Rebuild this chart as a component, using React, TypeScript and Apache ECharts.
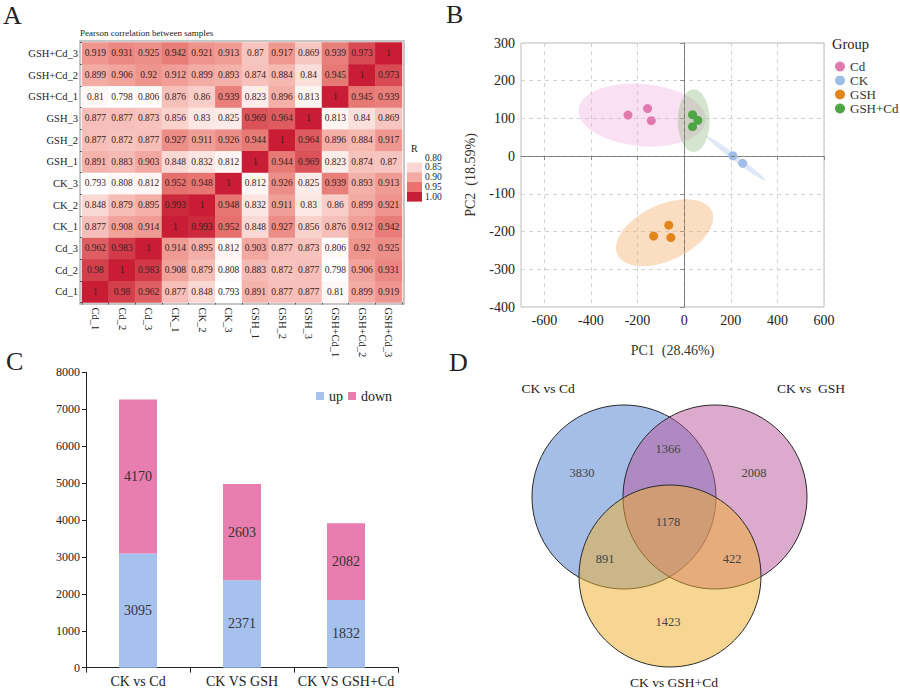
import React, { useEffect, useRef } from 'react';
import * as echarts from 'echarts';

const FONT = "'Liberation Serif', 'Times New Roman', serif";

// ---------- Panel A : Pearson correlation ----------
const samples = ['Cd_1', 'Cd_2', 'Cd_3', 'CK_1', 'CK_2', 'CK_3', 'GSH_1', 'GSH_2', 'GSH_3', 'GSH+Cd_1', 'GSH+Cd_2', 'GSH+Cd_3'];
const corrCd1 = [1, 0.98, 0.962, 0.877, 0.848, 0.793, 0.891, 0.877, 0.877, 0.81, 0.899, 0.919];
const corrCd2 = [0.98, 1, 0.983, 0.908, 0.879, 0.808, 0.883, 0.872, 0.877, 0.798, 0.906, 0.931];
const corrCd3 = [0.962, 0.983, 1, 0.914, 0.895, 0.812, 0.903, 0.877, 0.873, 0.806, 0.92, 0.925];
const corrCK1 = [0.877, 0.908, 0.914, 1, 0.993, 0.952, 0.848, 0.927, 0.856, 0.876, 0.912, 0.942];
const corrCK2 = [0.848, 0.879, 0.895, 0.993, 1, 0.948, 0.832, 0.911, 0.83, 0.86, 0.899, 0.921];
const corrCK3 = [0.793, 0.808, 0.812, 0.952, 0.948, 1, 0.812, 0.926, 0.825, 0.939, 0.893, 0.913];
const corrGSH1 = [0.891, 0.883, 0.903, 0.848, 0.832, 0.812, 1, 0.944, 0.969, 0.823, 0.874, 0.87];
const corrGSH2 = [0.877, 0.872, 0.877, 0.927, 0.911, 0.926, 0.944, 1, 0.964, 0.896, 0.884, 0.917];
const corrGSH3 = [0.877, 0.877, 0.873, 0.856, 0.83, 0.825, 0.969, 0.964, 1, 0.813, 0.84, 0.869];
const corrGC1 = [0.81, 0.798, 0.806, 0.876, 0.86, 0.939, 0.823, 0.896, 0.813, 1, 0.945, 0.939];
const corrGC2 = [0.899, 0.906, 0.92, 0.912, 0.899, 0.893, 0.874, 0.884, 0.84, 0.945, 1, 0.973];
const corrGC3 = [0.919, 0.931, 0.925, 0.942, 0.921, 0.913, 0.87, 0.917, 0.869, 0.939, 0.973, 1];
const corrMatrix = [corrCd1, corrCd2, corrCd3, corrCK1, corrCK2, corrCK3, corrGSH1, corrGSH2, corrGSH3, corrGC1, corrGC2, corrGC3];
const corrLegendTicks = [0.8, 0.85, 0.9, 0.95, 1.0];
const heatColors = ['#ffffff', '#fad7d2', '#f3aba3', '#e6736f', '#c81d35'];

// ---------- Panel B : PCA ----------
const pcaGroups = ['Cd', 'CK', 'GSH', 'GSH+Cd'];
const pcaCd = [[-241, 109], [-157, 126], [-141, 94]];
const pcaCK = [[209, 1], [251, -19]];
const pcaGSH = [[-66, -183], [-131, -212], [-57, -216]];
const pcaGSHCd = [[36, 110], [59, 95], [36, 78]];
const pcaPoints = [pcaCd, pcaCK, pcaGSH, pcaGSHCd];
// ellipse: center x, center y, semi-axis vector u (x,y), semi-axis vector v (x,y)
const ellipseCd = [-180, 109, 273, -15, 12, 82];
const ellipseCK = [222, -6, 125, -58, -8, -6];
const ellipseGSH = [-84, -203, 202, 58, -51, 67];
const ellipseGSHCd = [41, 94, 68, 0, 0, 83];
const pcaEllipses = [ellipseCd, ellipseCK, ellipseGSH, ellipseGSHCd];
const pcaXTicks = [-600, -400, -200, 0, 200, 400, 600];
const pcaColors = ['#e07aae', '#9fbde6', '#e2851c', '#4ea544'];
const ellipseFills = ['rgba(240,165,220,0.35)', 'rgba(160,190,230,0.35)', 'rgba(245,170,100,0.4)', 'rgba(120,175,105,0.32)'];

// ---------- Panel C : DEGs ----------
const comparisons = ['CK vs Cd', 'CK VS GSH', 'CK VS GSH+Cd'];
const upCounts = [3095, 2371, 1832];
const downCounts = [4170, 2603, 2082];

// ---------- Panel D : Venn ----------
const vennSetNames = ['CK vs Cd', 'CK vs  GSH', 'CK vs GSH+Cd'];
// regions: A only, B only, C only, A∩B, A∩C, B∩C, A∩B∩C
const vennRegionCounts = [3830, 2008, 1423, 1366, 891, 422, 1178];

export default function App() {
  const ref = useRef<HTMLDivElement>(null);

  useEffect(() => {
    if (!ref.current) return;
    const chart = echarts.init(ref.current, undefined, { renderer: 'svg' });

    const heatData: any[] = [];
    corrMatrix.forEach((row, i) => row.forEach((v, j) => heatData.push([j, i, v])));

    const txt = (text: string, x: number, y: number, size: number, align = 'left', vAlign = 'middle', color = '#222') => ({
      type: 'text',
      x,
      y,
      silent: true,
      style: {
        text,
        font: `${size}px ${FONT}`,
        fill: color,
        textAlign: align,
        textVerticalAlign: vAlign,
        align,
        verticalAlign: vAlign,
      },
    });

    const graphics: any[] = [];
    // Panel letters
    graphics.push(txt('A', 3, 15, 26));
    graphics.push(txt('B', 446, 14, 26));
    graphics.push(txt('C', 6, 361, 26));
    graphics.push(txt('D', 449, 362, 26));
    // Heatmap title & frame
    graphics.push(txt('Pearson correlation between samples', 80, 33, 9));
    graphics.push({ type: 'rect', silent: true, shape: { x: 80, y: 41, width: 324, height: 263 }, style: { fill: 'none', stroke: '#b5b5b5', lineWidth: 1.5 } });
    // Heatmap colour legend
    graphics.push(txt('R', 411, 148, 10));
    corrLegendTicks.forEach((t, i) => {
      const cy = 157.7 + i * 9.75;
      graphics.push({ type: 'rect', silent: true, shape: { x: 407, y: cy - 4.9, width: 15, height: 9.8 }, style: { fill: heatColors[i] } });
      graphics.push(txt(t.toFixed(2), 425, cy, 9.5));
    });
    // PCA legend title
    graphics.push(txt('Group', 832, 44, 14.5));

    // Venn
    const circles = [
      { cx: 624, cy: 497, r: 92, fill: 'rgba(75,125,209,0.5)' },
      { cx: 715, cy: 497, r: 92, fill: 'rgba(185,85,155,0.5)' },
      { cx: 670, cy: 576, r: 91, fill: 'rgba(239,173,41,0.5)' },
    ];
    circles.forEach((c) =>
      graphics.push({ type: 'circle', silent: true, shape: { cx: c.cx, cy: c.cy, r: c.r }, style: { fill: c.fill, stroke: '#2a2a2a', lineWidth: 1 } })
    );
    const setLabelPos = [[548, 388], [811, 388], [674, 682]];
    vennSetNames.forEach((n, i) => graphics.push(txt(n, setLabelPos[i][0], setLabelPos[i][1], 13.5, 'center')));
    const regionPos = [[582, 473], [754, 473], [668, 622], [668, 449], [605, 559], [732, 559], [668, 522]];
    vennRegionCounts.forEach((v, i) => graphics.push(txt(String(v), regionPos[i][0], regionPos[i][1], 12.5, 'center', 'middle', '#444')));

    const axisFont = { fontFamily: FONT, color: '#222' };

    const option: any = {
      animation: false,
      textStyle: { fontFamily: FONT },
      grid: [
        { left: 82, top: 42.5, width: 320, height: 260 },
        { left: 521, top: 43, width: 303, height: 264, show: true, borderColor: '#bdbdbd', borderWidth: 1 },
        { left: 86, top: 372.3, width: 312, height: 295.4 },
      ],
      xAxis: [
        {
          gridIndex: 0, type: 'category', data: samples,
          axisLine: { show: false }, axisTick: { show: true, length: 2, lineStyle: { color: '#555' } },
          axisLabel: { ...axisFont, fontSize: 10.5, rotate: -90, margin: 5, interval: 0 }, splitLine: { show: false },
        },
        {
          gridIndex: 1, type: 'value', min: -700, max: 600,
          name: 'PC1  (28.46%)', nameLocation: 'middle', nameGap: 36,
          nameTextStyle: { fontFamily: FONT, fontSize: 14, color: '#333' },
          axisLine: { show: true, lineStyle: { color: '#8a8a8a' } },
          axisTick: { show: true, length: 4, customValues: pcaXTicks, lineStyle: { color: '#8a8a8a' } },
          axisLabel: { ...axisFont, fontSize: 14, margin: 6, customValues: pcaXTicks },
          splitLine: { show: true, lineStyle: { type: [4, 4], color: '#d2d2d2' } },
        },
        {
          gridIndex: 2, type: 'category', data: comparisons,
          axisLine: { show: true, lineStyle: { color: '#222' } },
          axisTick: { show: true, length: 5, lineStyle: { color: '#222' } },
          axisLabel: { ...axisFont, fontSize: 14, margin: 7, interval: 0, hideOverlap: false },
        },
      ],
      yAxis: [
        {
          gridIndex: 0, type: 'category', data: samples,
          axisLine: { show: false }, axisTick: { show: true, length: 2, lineStyle: { color: '#555' } },
          axisLabel: { ...axisFont, fontSize: 10.5, margin: 4, interval: 0 }, splitLine: { show: false },
        },
        {
          gridIndex: 1, type: 'value', min: -400, max: 300, interval: 100,
          name: 'PC2  (18.59%)', nameLocation: 'middle', nameGap: 44, nameRotate: 90,
          nameTextStyle: { fontFamily: FONT, fontSize: 14, color: '#333' },
          axisLine: { show: true, lineStyle: { color: '#8a8a8a' } },
          axisTick: { show: true, length: 4, lineStyle: { color: '#8a8a8a' } },
          axisLabel: { ...axisFont, fontSize: 14, margin: 6 },
          splitLine: { show: true, lineStyle: { type: [4, 4], color: '#d2d2d2' } },
        },
        {
          gridIndex: 2, type: 'value', min: 0, max: 8000, interval: 1000,
          axisLine: { show: true, lineStyle: { color: '#222' } },
          axisTick: { show: true, length: 4, lineStyle: { color: '#222' } },
          axisLabel: { ...axisFont, fontSize: 12, margin: 6, formatter: (v: number) => String(v) },
          splitLine: { show: false },
        },
      ],
      visualMap: {
        type: 'continuous', show: false, seriesIndex: 0, min: 0.8, max: 1,
        inRange: { color: heatColors },
      },
      legend: [
        {
          data: pcaGroups, orient: 'vertical', left: 830, top: 55, icon: 'circle',
          itemWidth: 10, itemHeight: 10, itemGap: 1,
          textStyle: { fontFamily: FONT, fontSize: 13, color: '#333' },
          selectedMode: false,
        },
        {
          data: ['up', 'down'], orient: 'horizontal', left: 311, top: 384, icon: 'rect',
          itemWidth: 8, itemHeight: 8, itemGap: 5,
          textStyle: { fontFamily: FONT, fontSize: 14, color: '#222' },
          selectedMode: false,
        },
      ],
      graphic: { elements: graphics },
      series: [
        {
          type: 'heatmap', xAxisIndex: 0, yAxisIndex: 0, data: heatData,
          label: { show: true, fontFamily: FONT, fontSize: 9.5, color: '#3a2020', formatter: (p: any) => String(p.value[2]) },
          emphasis: { disabled: true },
        },
        {
          type: 'custom', name: 'ellipses', xAxisIndex: 1, yAxisIndex: 1, z: 1, silent: true,
          data: pcaEllipses,
          encode: { x: 0, y: 1 },
          renderItem: (params: any, api: any) => {
            const cx = api.value(0), cy = api.value(1);
            const ux = api.value(2), uy = api.value(3), vx = api.value(4), vy = api.value(5);
            const pts: number[][] = [];
            for (let k = 0; k < 90; k++) {
              const t = (k / 90) * Math.PI * 2;
              pts.push(api.coord([cx + ux * Math.cos(t) + vx * Math.sin(t), cy + uy * Math.cos(t) + vy * Math.sin(t)]));
            }
            return { type: 'polygon', shape: { points: pts }, style: { fill: ellipseFills[params.dataIndex], stroke: 'none' } };
          },
        },
        ...pcaGroups.map((g, gi) => ({
          type: 'scatter', name: g, xAxisIndex: 1, yAxisIndex: 1, z: 3,
          data: pcaPoints[gi], symbolSize: 9,
          itemStyle: { color: pcaColors[gi], opacity: 1 },
          ...(gi === 0
            ? {
                markLine: {
                  silent: true, symbol: 'none', label: { show: false },
                  lineStyle: { type: [4, 3], color: '#7a7a7a', width: 1 },
                  data: [{ xAxis: 0 }, { yAxis: 0 }],
                },
              }
            : {}),
        })),
        {
          type: 'bar', name: 'up', stack: 'deg', xAxisIndex: 2, yAxisIndex: 2, data: upCounts,
          barWidth: 38, itemStyle: { color: '#a6c1ee' },
          label: { show: true, position: 'inside', fontFamily: FONT, fontSize: 14, color: '#333' },
        },
        {
          type: 'bar', name: 'down', stack: 'deg', xAxisIndex: 2, yAxisIndex: 2, data: downCounts,
          barWidth: 38, itemStyle: { color: '#e87daf' },
          label: { show: true, position: 'inside', fontFamily: FONT, fontSize: 14, color: '#333' },
        },
      ],
    };

    chart.setOption(option);
    return () => chart.dispose();
  }, []);

  return (
    <div
      ref={ref}
      style={{ position: 'absolute', left: 0, top: 0, width: 900, height: 689, background: '#fff' }}
    />
  );
}
